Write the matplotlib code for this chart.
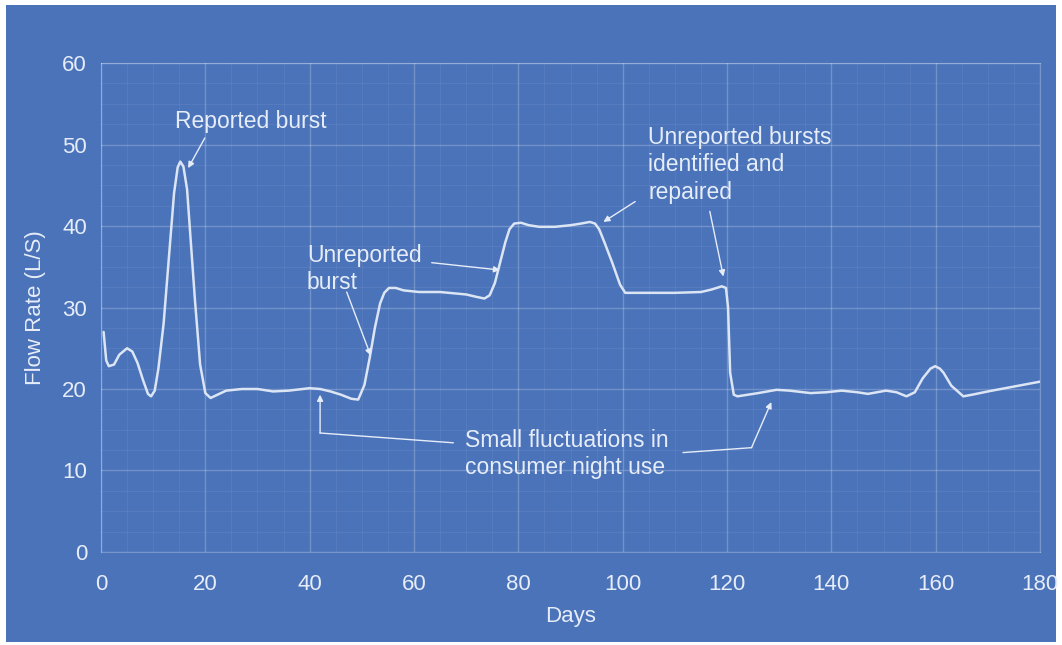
import matplotlib
matplotlib.use("Agg")
from matplotlib import pyplot as plt
from matplotlib.patches import Rectangle
from matplotlib.ticker import MultipleLocator

plt.rcParams["font.family"] = ["Liberation Sans", "DejaVu Sans"]

BG = "#4b73ba"
FG = "#e6edf8"
LINE = "#dbe5f4"

# flow rate (days, L/s)
days = [0.5, 1, 1.5, 2.5, 3.5, 5, 6, 7, 8, 9, 9.6, 10.3, 11, 12, 13, 14,
        14.7, 15.2, 15.8, 16.5, 17, 18, 19, 20, 21, 22, 24, 27, 30, 33, 36,
        40, 42, 44, 46, 48, 49.3, 50.5, 51.5, 52.5, 53.5, 54.3, 55.2, 56.5,
        58, 61, 65, 70, 72, 73.5, 74.5, 75.5, 76.5, 77.5, 78.3, 79.2, 80.5,
        82, 84, 87, 90, 92, 93.7, 94.7, 95.5, 96.5, 98, 99.5, 100.5, 104,
        110, 115, 117, 119, 119.8, 120.2, 120.6, 121.3, 122, 124, 126,
        129.5, 132, 136, 139, 142, 145, 147, 150.5, 152.5, 154.4, 156, 157.5,
        159, 159.9, 160.8, 161.5, 163, 165.3, 167, 170, 175, 180]
flow = [27.0, 23.5, 22.8, 23.0, 24.2, 25.0, 24.6, 23.2, 21.2, 19.4, 19.1,
        19.8, 22.5, 28.0, 36.0, 44.0, 47.2, 47.9, 47.3, 44.5, 40.0, 31.0,
        23.0, 19.5, 18.9, 19.2, 19.8, 20.0, 20.0, 19.7, 19.8, 20.1, 20.0,
        19.7, 19.3, 18.8, 18.7, 20.5, 23.8, 27.5, 30.5, 31.8, 32.4, 32.4,
        32.1, 31.9, 31.9, 31.6, 31.3, 31.1, 31.5, 33.0, 35.5, 38.0, 39.6,
        40.3, 40.4, 40.1, 39.9, 39.9, 40.1, 40.3, 40.5, 40.3, 39.6, 38.0,
        35.5, 32.8, 31.8, 31.8, 31.8, 31.9, 32.2, 32.6, 32.4, 30.0, 22.0,
        19.3, 19.1, 19.3, 19.5, 19.9, 19.8, 19.5, 19.6, 19.8, 19.6, 19.4,
        19.8, 19.6, 19.1, 19.6, 21.3, 22.5, 22.8, 22.5, 22.0, 20.4, 19.1,
        19.3, 19.7, 20.3, 20.9]

x_ticks = [0, 20, 40, 60, 80, 100, 120, 140, 160, 180]
y_ticks = [0, 10, 20, 30, 40, 50, 60]


def main():
    fig = plt.figure(figsize=(10.62, 6.45), dpi=100, facecolor="white")
    fig.patches.append(Rectangle((6 / 1062, 3 / 645), 1050 / 1062, 637 / 645,
                                 transform=fig.transFigure, facecolor=BG,
                                 edgecolor="none", zorder=-10))
    ax = fig.add_axes([0.0951, 0.1442, 0.8842, 0.7581])
    ax.set_facecolor(BG)

    ax.plot(days, flow, color=LINE, lw=1.8, solid_capstyle="round",
            solid_joinstyle="round", zorder=3)

    ax.set_xlim(0, 180)
    ax.set_ylim(0, 60)
    ax.set_xticks(x_ticks)
    ax.set_yticks(y_ticks)
    ax.xaxis.set_minor_locator(MultipleLocator(5))
    ax.yaxis.set_minor_locator(MultipleLocator(2.5))
    ax.grid(which="major", color="white", alpha=0.22, lw=1.0)
    ax.grid(which="minor", color="white", alpha=0.06, lw=0.8)
    for s in ax.spines.values():
        s.set_color((1, 1, 1, 0.25))
    ax.tick_params(which="both", length=0, colors=FG, labelsize=16)
    ax.tick_params(axis="x", pad=16)
    ax.tick_params(axis="y", pad=10)

    ax.set_xlabel("Days", color=FG, fontsize=16, labelpad=8)
    ax.set_ylabel("Flow Rate (L/S)", color=FG, fontsize=16, labelpad=12)

    arrow = dict(arrowstyle="-|>", color=FG, lw=1.0, mutation_scale=9,
                 shrinkA=0, shrinkB=0)
    txt = dict(color=FG, fontsize=16.5, linespacing=1.25)

    ax.text(14.2, 52.8, "Reported burst", va="center", **txt)
    ax.annotate("", xy=(16.7, 47.1), xytext=(19.9, 50.8), arrowprops=arrow)

    ax.text(39.5, 34.7, "Unreported\nburst", va="center", **txt)
    ax.annotate("", xy=(51.7, 24.1), xytext=(47.1, 31.9), arrowprops=arrow)
    ax.annotate("", xy=(76.5, 34.6), xytext=(63.4, 35.5), arrowprops=arrow)

    ax.text(104.9, 47.5, "Unreported bursts\nidentified and\nrepaired",
            va="center", **txt)
    ax.annotate("", xy=(96.3, 40.5), xytext=(102.4, 43.0), arrowprops=arrow)
    ax.annotate("", xy=(119.3, 33.8), xytext=(116.7, 41.8), arrowprops=arrow)

    ax.text(69.8, 12.0, "Small fluctuations in\nconsumer night use",
            va="center", **txt)
    ax.plot([67.5, 42.0], [13.4, 14.6], color=FG, lw=1.0, zorder=2)
    ax.annotate("", xy=(42.0, 19.3), xytext=(42.0, 14.6), arrowprops=arrow)
    ax.plot([111.6, 124.7], [12.2, 12.8], color=FG, lw=1.0, zorder=2)
    ax.annotate("", xy=(128.5, 18.4), xytext=(124.7, 12.8), arrowprops=arrow)

    fig.savefig("out.png", dpi=100, facecolor="white")
    plt.close(fig)


if __name__ == "__main__":
    main()
